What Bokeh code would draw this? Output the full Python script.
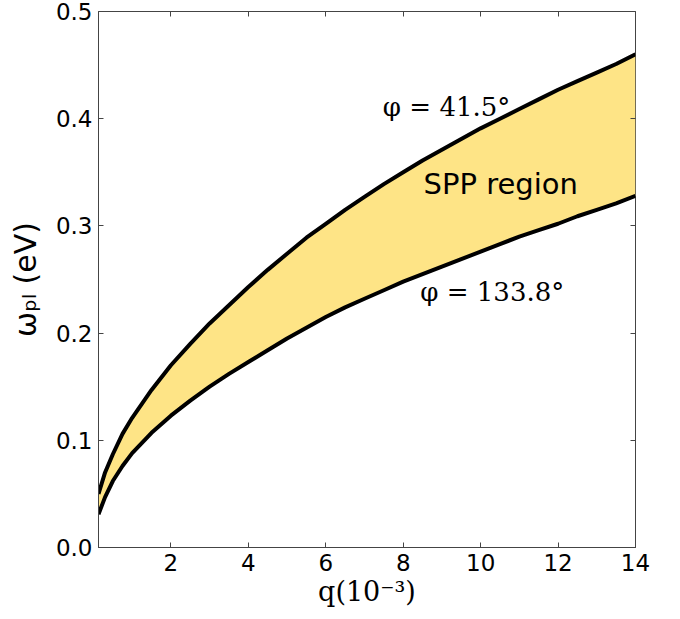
from bokeh.plotting import figure
from bokeh.models import LinearAxis, Label, FixedTicker, ColumnDataSource
from bokeh.embed import file_html
from bokeh.resources import INLINE

# Data
q = [0.13, 0.3, 0.5, 0.75, 1.0, 1.5, 2.0, 2.5, 3.0, 3.5, 4.0, 4.5, 5.0, 5.5, 6.0, 6.5,
     7.0, 7.5, 8.0, 8.5, 9.0, 9.5, 10.0, 10.5, 11.0, 11.5, 12.0, 12.5, 13.0, 13.5, 14.0]
omega_upper = [0.050, 0.070, 0.087, 0.106, 0.121, 0.147, 0.170, 0.190, 0.209, 0.226,
               0.243, 0.259, 0.274, 0.289, 0.302, 0.315, 0.327, 0.339, 0.350, 0.361,
               0.371, 0.381, 0.391, 0.400, 0.409, 0.418, 0.427, 0.435, 0.443, 0.451, 0.460]
omega_lower = [0.031, 0.047, 0.062, 0.076, 0.088, 0.107, 0.123, 0.137, 0.150, 0.162,
               0.173, 0.184, 0.195, 0.205, 0.215, 0.224, 0.232, 0.240, 0.248, 0.255,
               0.262, 0.269, 0.276, 0.283, 0.290, 0.296, 0.302, 0.309, 0.315, 0.321, 0.328]
x_ticks = [2, 4, 6, 8, 10, 12, 14]
y_ticks = [0.0, 0.1, 0.2, 0.3, 0.4, 0.5]
label_upper = "φ = 41.5°"
label_lower = "φ = 133.8°"
label_region = "SPP region"

src = ColumnDataSource(dict(q=q, up=omega_upper, lo=omega_lower))

p = figure(width=680, height=619, x_range=(0.13, 14), y_range=(0, 0.5),
           output_backend="svg", toolbar_location=None,
           min_border_left=98, min_border_right=45, min_border_top=11, min_border_bottom=72)
p.grid.visible = False
p.background_fill_color = "white"
p.border_fill_color = "white"
p.outline_line_color = "#444444"
p.outline_line_width = 1

AX = "#444444"
for ax in (p.xaxis[0], p.yaxis[0]):
    ax.major_tick_in = 5
    ax.major_tick_out = 0
    ax.minor_tick_in = 0
    ax.minor_tick_out = 0
    ax.axis_line_color = AX
    ax.major_tick_line_color = AX
    ax.major_label_text_font = "DejaVu Sans"
    ax.major_label_text_font_size = "23px"
    ax.major_label_text_color = "black"
    ax.major_label_standoff = 6
    ax.axis_label_text_color = "black"

p.xaxis[0].ticker = FixedTicker(ticks=x_ticks)
p.yaxis[0].ticker = FixedTicker(ticks=y_ticks)
p.yaxis[0].major_label_overrides = {t: f"{t:.1f}" for t in y_ticks}

p.xaxis[0].axis_label = "q(10⁻³)"
p.xaxis[0].axis_label_text_font = "DejaVu Serif"
p.xaxis[0].axis_label_text_font_size = "27px"
p.xaxis[0].axis_label_text_font_style = "normal"
p.xaxis[0].axis_label_standoff = 2

p.yaxis[0].axis_label = "ωₚₗ (eV)"
p.yaxis[0].axis_label_text_font = "DejaVu Sans"
p.yaxis[0].axis_label_text_font_size = "30px"
p.yaxis[0].axis_label_text_font_style = "normal"
p.yaxis[0].axis_label_standoff = 10

# mirrored ticks on top and right (no labels)
top = LinearAxis(ticker=FixedTicker(ticks=x_ticks), major_tick_in=5, major_tick_out=0,
                 minor_tick_in=0, minor_tick_out=0, axis_line_color=None,
                 major_tick_line_color=AX, major_label_standoff=0,
                 major_label_overrides={t: "" for t in x_ticks})
right = LinearAxis(ticker=FixedTicker(ticks=y_ticks), major_tick_in=5, major_tick_out=0,
                   minor_tick_in=0, minor_tick_out=0, axis_line_color=None,
                   major_tick_line_color=AX, major_label_standoff=0,
                   major_label_overrides={t: "" for t in y_ticks})
p.add_layout(top, "above")
p.add_layout(right, "right")

p.varea(x="q", y1="lo", y2="up", source=src, fill_color="#fee486", fill_alpha=1.0)
p.line(x="q", y="up", source=src, line_color="black", line_width=4, line_join="round")
p.line(x="q", y="lo", source=src, line_color="black", line_width=4, line_join="round")

p.add_layout(Label(x=9.12, y=0.4105, text=label_upper, text_align="center",
                   text_baseline="middle", text_font="DejaVu Serif",
                   text_font_size="26px", text_color="black"))
p.add_layout(Label(x=10.30, y=0.2387, text=label_lower, text_align="center",
                   text_baseline="middle", text_font="DejaVu Serif",
                   text_font_size="26px", text_color="black"))
p.add_layout(Label(x=10.52, y=0.3387, text=label_region, text_align="center",
                   text_baseline="middle", text_font="DejaVu Sans",
                   text_font_size="29px", text_color="black"))

open("out.html", "w").write(file_html(p, INLINE))
